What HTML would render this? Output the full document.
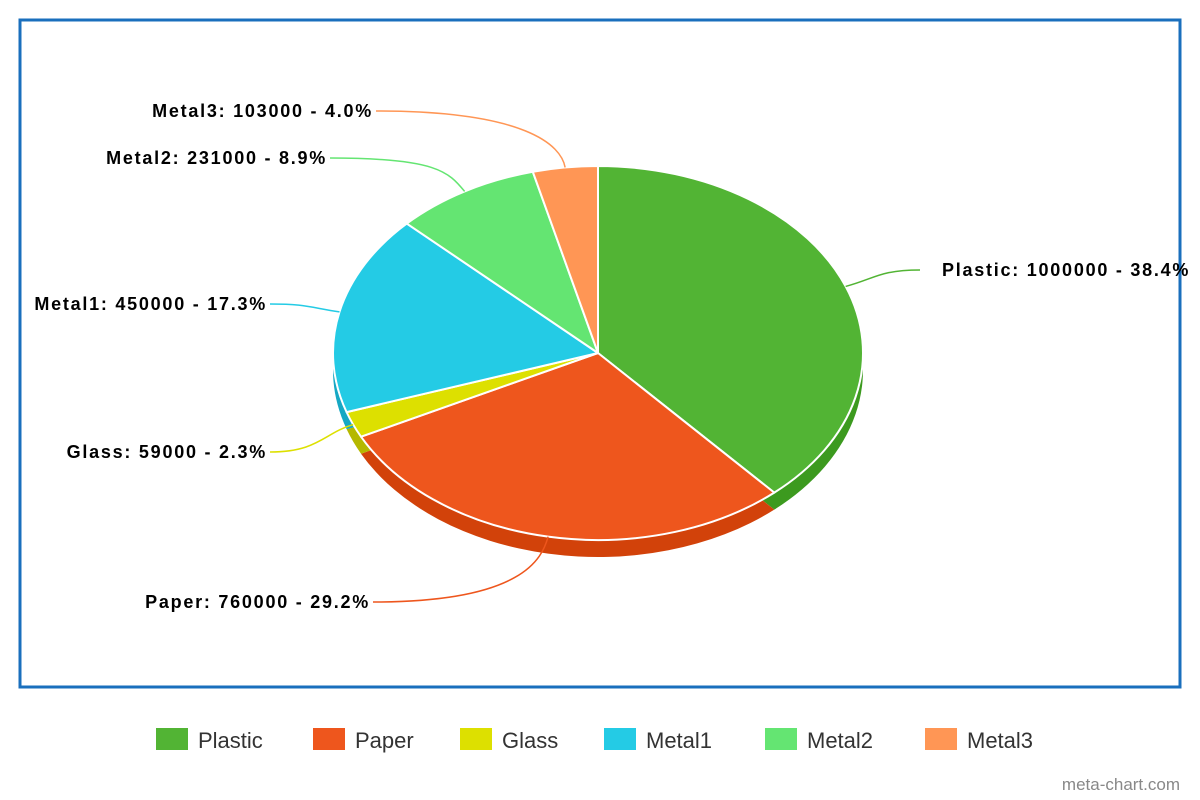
<!DOCTYPE html>
<html><head><meta charset="utf-8"><style>
body{margin:0;background:#fff;}
svg{display:block;font-family:"Liberation Sans",sans-serif;}
</style></head><body>
<svg id="chart" width="1200" height="800">
<rect x="20" y="20" width="1160" height="667" fill="#fff" stroke="#1a6fbd" stroke-width="3"/>
<g id="depth"></g><g id="slices"></g><g id="labels"></g><g id="legend"></g>
<text x="1180" y="790" text-anchor="end" font-size="17" fill="#888">meta-chart.com</text>
</svg>
<script>
const categories=["Plastic","Paper","Glass","Metal1","Metal2","Metal3"];
const values=[1000000,760000,59000,450000,231000,103000];
const colors=["#52b434","#ee561d","#dde000","#24cbe5","#64e572","#ff9655"];
const darkColors=["#3c9a1f","#d2420a","#b5b800","#16a8c4","#4cc45a","#e07a3a"];
// label layout (text anchor x, baseline y)
const labelX=[942,370,267,267,327,373];
const labelY=[276,608,458,310,164,117];
const NS="http://www.w3.org/2000/svg";
const cx=598,cy=353,rx=265,ry=187,depth=17;
const total=values.reduce((a,b)=>a+b,0);
function pt(t,dy,k){k=k||1;return [cx+rx*k*Math.sin(t),cy+dy-ry*k*Math.cos(t)];}
function slicePath(a0,a1,dy){
  const p0=pt(a0,dy),p1=pt(a1,dy),large=(a1-a0)>Math.PI?1:0;
  return `M${cx},${cy+dy}L${p0[0]},${p0[1]}A${rx},${ry} 0 ${large} 1 ${p1[0]},${p1[1]}Z`;
}
function mk(tag,attrs,parent){const e=document.createElementNS(NS,tag);for(const k in attrs)e.setAttribute(k,attrs[k]);parent.appendChild(e);return e;}
let a=0;
const dG=document.getElementById('depth'),sG=document.getElementById('slices'),lG=document.getElementById('labels'),gG=document.getElementById('legend');
values.forEach((v,i)=>{
  const a1=a+v/total*2*Math.PI;
  const d=mk('path',{d:slicePath(a,a1,depth),fill:darkColors[i]},dG);
  
  
  const s=mk('path',{d:slicePath(a,a1,0),fill:colors[i],stroke:'#fff','stroke-width':2,'stroke-linejoin':'round'},sG);
  
  
  const m=(a+a1)/2,right=Math.sin(m)>=0;
  const p=pt(m,0,1.0),q=pt(m,0,1.12);
  const ex=labelX[i]+(right?-22:3),ey=labelY[i]-6;
  const c2x=ex+(right?-1:1)*Math.min(150,Math.abs(ex-q[0])*0.9);
  const ln=mk('path',{d:`M${p[0]},${p[1]}C${q[0]},${q[1]} ${c2x},${ey} ${ex},${ey}`,fill:'none',stroke:colors[i],'stroke-width':1.5},lG);
  
  
  const t=mk('text',{x:labelX[i],y:labelY[i],'text-anchor':right?'start':'end','font-size':18,'font-weight':'bold',fill:'#000','letter-spacing':'1.75'},lG);
  t.textContent=categories[i]+': '+v+' - '+(v/total*100).toFixed(1)+'%';
  
  
  a=a1;
});
const legX=[156,313,460,604,765,925];
categories.forEach((c,i)=>{
  const g=mk('g',{},gG);
  
  
  mk('rect',{x:legX[i],y:728,width:32,height:22,fill:colors[i]},g);
  const t=mk('text',{x:legX[i]+42,y:748,'font-size':22,fill:'#333'},g);
  t.textContent=c;
});
</script>
</body></html>
